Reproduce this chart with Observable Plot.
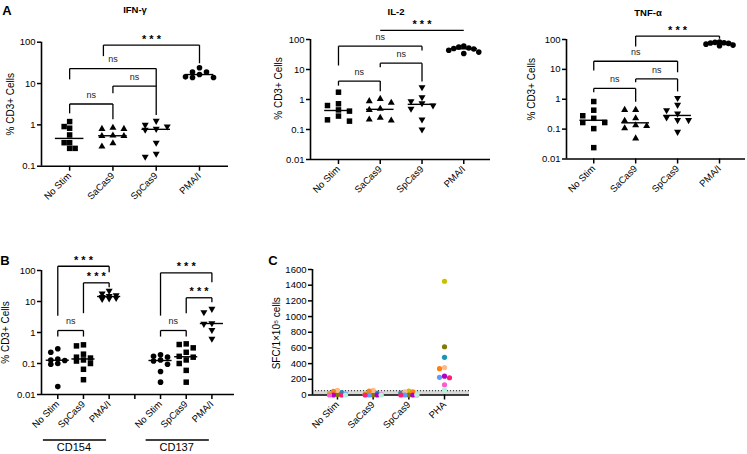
<!DOCTYPE html>
<html><head><meta charset="utf-8">
<script src="https://cdn.jsdelivr.net/npm/d3@7"></script>
<script src="https://cdn.jsdelivr.net/npm/@observablehq/plot@0.6"></script>
<style>
body{margin:0;background:#fff;font-family:"Liberation Sans",Arial,sans-serif;color:#000;}
#root{position:relative;width:747px;height:454px;overflow:hidden;background:#fff;}
.lbl{position:absolute;transform:translate(-50%,-50%);white-space:nowrap;line-height:1;}
</style></head><body><div id="root"></div>
<script>
// ---------------- DATA ----------------
const catsA = ["No Stim", "SaCas9", "SpCas9", "PMA/I"];
const catsB = ["No Stim", "SpCas9", "PMA/I", "", "No Stim", "SpCas9", "PMA/I"];
const groupsB = ["CD154", "CD137"];
const catsC = ["No Stim", "SaCas9", "SpCas9", "PHA"];

// IFN-γ (% CD3+ cells)
const ifnNoStim = [1.2, 0.91, 0.83, 0.57, 0.37, 0.37, 0.27, 0.27];
const ifnSaCas9 = [0.85, 0.8, 0.8, 0.55, 0.54, 0.54, 0.36, 0.30];
const ifnSpCas9 = [1.25, 1.0, 0.91, 0.8, 0.76, 0.37, 0.2, 0.17];
const ifnPMAI   = [24, 19, 19, 16.5, 14.5, 14, 14];
// IL-2
const il2NoStim = [1.75, 0.72, 0.63, 0.45, 0.41, 0.28, 0.21, 0.19];
const il2SaCas9 = [1.05, 0.88, 0.78, 0.49, 0.45, 0.245, 0.215, 0.2];
const il2SpCas9 = [2.57, 1.19, 0.88, 0.75, 0.63, 0.49, 0.215, 0.1];
const il2PMAI   = [60, 56, 52, 50, 48, 44, 38, 34];
// TNF-α
const tnfNoStim = [0.84, 0.43, 0.28, 0.23, 0.166, 0.166, 0.104, 0.024];
const tnfSaCas9 = [0.44, 0.44, 0.23, 0.19, 0.135, 0.128, 0.107, 0.049];
const tnfSpCas9 = [1.1, 0.65, 0.43, 0.33, 0.244, 0.2, 0.2, 0.081];
const tnfPMAI   = [82, 80, 78, 76, 74, 70, 65, 62];
// B: CD154 / CD137
const cd154NoStim = [0.30, 0.23, 0.14, 0.13, 0.125, 0.10, 0.095, 0.018];
const cd154SpCas9 = [0.40, 0.37, 0.20, 0.16, 0.15, 0.13, 0.12, 0.10, 0.065, 0.03];
const cd154PMAI   = [22, 18, 16, 15, 14, 13, 12.5, 12];
const cd137NoStim = [0.19, 0.17, 0.16, 0.13, 0.12, 0.095, 0.055, 0.025];
const cd137SpCas9 = [0.43, 0.41, 0.32, 0.23, 0.17, 0.16, 0.13, 0.10, 0.06, 0.025];
const cd137PMAI   = [5.8, 4.5, 2.0, 1.9, 1.2, 0.63];
// C: ELISpot SFC per 1e5 cells, one value per donor
const donors = ["D1","D2","D3","D4","D5","D6","D7","D8","D9","D10"];
const donorColors = ["#c8c000","#7f7c00","#1797b2","#ffb98a","#ff7f12","#5c9dff","#b300c8","#ff1f7a","#ff5ad2","#b5f0dc"];
const elsNoStim = [20, 5, 30, 60, 45, 10, 0, 0, 0, 0];
const elsSaCas9 = [10, 0, 20, 60, 50, 0, 0, 0, 5, 0];
const elsSpCas9 = [50, 0, 25, 40, 40, 0, 0, 0, 0, 5];
const elsPHA    = [1450, 615, 480, 350, 335, 225, 240, 220, 130, 65];
const elsCutoff = 55;

// significance brackets: x1/x2 = category index, top/yL/yR = data values
const ifnBrackets = [
  {x1: 0.78, x2: 3, top: 85, yL: 46, yR: 31, label: "***"},
  {x1: 0, x2: 2, top: 23, yL: 12.6, yR: 8.7, label: "ns"},
  {x1: 1, x2: 2, top: 8.7, yL: 5.8, yR: 1.74, label: "ns"},
  {x1: 0, x2: 1, top: 3.2, yL: 1.9, yR: 1.37, label: "ns"}
];
const il2Brackets = [
  {x1: 1, x2: 3, top: 200, yL: 200, yR: 200, label: "***"},
  {x1: 0, x2: 2, top: 60, yL: 13.6, yR: 43, label: "ns"},
  {x1: 1, x2: 2, top: 16.2, yL: 12, yR: 4, label: "ns"},
  {x1: 0, x2: 1, top: 4.1, yL: 2.9, yR: 1.9, label: "ns"}
];
const tnfBrackets = [
  {x1: 1, x2: 3, top: 130, yL: 58, yR: 106, label: "***"},
  {x1: 0, x2: 2, top: 18.7, yL: 9.1, yR: 8, label: "ns"},
  {x1: 1, x2: 2, top: 4.8, yL: 3.7, yR: 1.83, label: "ns"},
  {x1: 0, x2: 1, top: 2.3, yL: 1.7, yR: 0.82, label: "ns"}
];
const bBrackets = [
  {x1: 0, x2: 2, top: 137, yL: 3.5, yR: 88, label: "***"},
  {x1: 1, x2: 2, top: 40, yL: 4.2, yR: 29, label: "***"},
  {x1: 0, x2: 1, top: 1.16, yL: 0.74, yR: 0.74, label: "ns"},
  {x1: 4, x2: 6, top: 84, yL: 3.5, yR: 42, label: "***"},
  {x1: 5, x2: 6, top: 13.2, yL: 4.2, yR: 9.5, label: "***"},
  {x1: 4, x2: 5, top: 1.16, yL: 0.74, yR: 0.74, label: "ns"}
];

// ---------------- HELPERS ----------------
const FONT = "'Liberation Sans', Arial, Helvetica, sans-serif";
const root = document.getElementById("root");
function place(node, left, top) {
  node.style.position = "absolute";
  node.style.left = left + "px";
  node.style.top = top + "px";
  root.appendChild(node);
}
function htmlLabel(text, x, y, css) {
  const d = document.createElement("div");
  d.className = "lbl";
  d.textContent = text;
  d.style.left = x + "px";
  d.style.top = y + "px";
  Object.assign(d.style, css || {});
  root.appendChild(d);
}
// deterministic column packing (GraphPad-like scatter), limited to 2*maxK+1 columns
function swarm(values, yPx, step, minDy, maxK) {
  const pts = values.map((v, i) => ({v, i, py: yPx(v), off: 0}));
  const order = d3.sort(pts, p => p.py);
  const placed = [];
  const cands = [0];
  for (let j = 1; j <= maxK; j++) cands.push(-j * step, j * step);
  for (const p of order) {
    let best = null, bestGap = -1;
    for (const c of cands) {
      const same = placed.filter(q => Math.abs(q.off - c) < 0.01);
      const gap = same.length ? d3.min(same, q => Math.abs(q.py - p.py)) : Infinity;
      if (gap >= minDy) { best = c; bestGap = Infinity; break; }
      if (gap > bestGap) { bestGap = gap; best = c; }
    }
    p.off = best;
    placed.push(p);
  }
  return pts;
}
function bracketMarks(brackets) {
  const segs = [];
  for (const b of brackets) {
    segs.push({x1: b.x1, y1: b.top, x2: b.x2, y2: b.top});
    if (b.yL !== b.top) segs.push({x1: b.x1, y1: b.top, x2: b.x1, y2: b.yL});
    if (b.yR !== b.top) segs.push({x1: b.x2, y1: b.top, x2: b.x2, y2: b.yR});
  }
  const ns = brackets.filter(b => b.label === "ns");
  const st = brackets.filter(b => b.label !== "ns");
  return [
    Plot.link(segs, {x1: "x1", y1: "y1", x2: "x2", y2: "y2", stroke: "#000", strokeWidth: 1.3}),
    Plot.text(ns, {x: b => (b.x1 + b.x2) / 2, y: "top", text: "label", dy: -9, fontSize: 9, fill: "#222"}),
    Plot.text(st, {x: b => (b.x1 + b.x2) / 2, y: "top", text: b => b.label.split("").join(" "), dy: -6, fontSize: 11, fontWeight: "bold", fill: "#000"})
  ];
}

function scatterPanel(cfg) {
  const {width, height, ml, mt, mr, mb, xdomain, ydomain, ytype, yticks, ytickFormat,
         xticks, xlabels, groups, brackets, ylabel, ylabelDx, ylabelDy, step, minDy, maxK, medHalf,
         extraBack = [], extraFront = [], color} = cfg;
  const yPx = (ytype === "log" ? d3.scaleLog() : d3.scaleLinear()).domain(ydomain).range([height - mb, mt]);
  const pxPerX = (width - ml - mr) / (xdomain[1] - xdomain[0]);
  const dotMarks = [], meds = [];
  for (const g of groups) {
    const s = swarm(g.values, yPx, g.step || step, minDy, g.maxK ?? maxK);
    const data = s.map(p => ({x: g.x + p.off / pxPerX, y: p.v, donor: g.donors ? g.donors[p.i] : null}));
    dotMarks.push(Plot.dot(data, {x: "x", y: "y", symbol: g.symbol, rotate: g.rotate || 0, r: g.r,
      fill: g.donors ? "donor" : "#000", stroke: "none"}));
    if (medHalf) meds.push({x1: g.x - medHalf, x2: g.x + medHalf, y: d3.median(g.values)});
  }
  return Plot.plot({
    width, height, marginLeft: ml, marginTop: mt, marginRight: mr, marginBottom: mb,
    style: {fontFamily: FONT, fontSize: "9.5px", color: "#000", background: "transparent", overflow: "visible"},
    x: {domain: xdomain},
    y: {type: ytype, domain: ydomain},
    color: color || undefined,
    marks: [
      ...extraBack,
      Plot.ruleY([ydomain[0]], {stroke: "#000", strokeWidth: 1.6}),
      Plot.ruleX([xdomain[0]], {stroke: "#000", strokeWidth: 1.6}),
      Plot.axisY({ticks: yticks, tickFormat: ytickFormat, tickSize: 4, tickPadding: 2, strokeWidth: 1.5, label: null, fontSize: 9.5}),
      Plot.axisX({ticks: xticks, tickFormat: i => xlabels[i], tickRotate: -45, tickSize: 5, tickPadding: 3, strokeWidth: 1.5, label: null, fontSize: 9.5}),
      Plot.ruleY(meds, {x1: "x1", x2: "x2", y: "y", stroke: "#000", strokeWidth: 1.4}),
      ...dotMarks,
      ...(brackets ? bracketMarks(brackets) : []),
      Plot.text([ylabel], {frameAnchor: "left", text: d => d, rotate: -90, dx: ylabelDx, dy: ylabelDy || 0,
        fontSize: 10, textAnchor: "middle", lineAnchor: "middle", fill: "#000"}),
      ...extraFront
    ]
  });
}
const logFmt = d => String(d);
const sq = {symbol: "square", r: 3.1};
const tri = {symbol: "triangle", r: 2.6};
const itri = {symbol: "triangle", rotate: 180, r: 2.6};
const circ = {symbol: "circle", r: 2.8};

// ---------------- PANEL A ----------------
place(scatterPanel({
  width: 240, height: 230, ml: 41, mt: 41.7, mr: 12, mb: 64.3,
  xdomain: [-0.65, 3.67], ydomain: [0.1, 100], ytype: "log", yticks: [0.1, 1, 10, 100], ytickFormat: logFmt,
  xticks: [0, 1, 2, 3], xlabels: catsA, step: 11, minDy: 6, maxK: 1, medHalf: 0.33,
  groups: [
    {x: 0, values: ifnNoStim, ...sq, step: 5.5}, {x: 1, values: ifnSaCas9, ...tri},
    {x: 2, values: ifnSpCas9, ...itri}, {x: 3, values: ifnPMAI, ...circ, step: 7, maxK: 2}
  ],
  brackets: ifnBrackets, ylabel: "% CD3+ Cells", ylabelDx: -31, ylabelDy: 0
}), 0, 0);

place(scatterPanel({
  width: 247, height: 230, ml: 60, mt: 39, mr: 7, mb: 71,
  xdomain: [-0.67, 3.64], ydomain: [0.01, 100], ytype: "log", yticks: [0.01, 0.1, 1, 10, 100], ytickFormat: logFmt,
  xticks: [0, 1, 2, 3], xlabels: catsA, step: 11, minDy: 6, maxK: 1, medHalf: 0.33,
  groups: [
    {x: 0, values: il2NoStim, ...sq}, {x: 1, values: il2SaCas9, ...tri},
    {x: 2, values: il2SpCas9, ...itri}, {x: 3, values: il2PMAI, ...circ, step: 5, maxK: 3}
  ],
  brackets: il2Brackets, ylabel: "% CD3+ Cells", ylabelDx: -31.5, ylabelDy: -11
}), 250, 0);

place(scatterPanel({
  width: 247, height: 230, ml: 66, mt: 39, mr: 2, mb: 71.5,
  xdomain: [-0.65, 3.62], ydomain: [0.01, 100], ytype: "log", yticks: [0.01, 0.1, 1, 10, 100], ytickFormat: logFmt,
  xticks: [0, 1, 2, 3], xlabels: catsA, step: 11, minDy: 6, maxK: 1, medHalf: 0.33,
  groups: [
    {x: 0, values: tnfNoStim, ...sq}, {x: 1, values: tnfSaCas9, ...tri},
    {x: 2, values: tnfSpCas9, ...itri}, {x: 3, values: tnfPMAI, ...circ, step: 4.5, maxK: 3}
  ],
  brackets: tnfBrackets, ylabel: "% CD3+ Cells", ylabelDx: -34.5, ylabelDy: -10
}), 500, 0);

// ---------------- PANEL B ----------------
const bGroupSpans = [{name: groupsB[0], first: 0, last: 2}, {name: groupsB[1], first: 4, last: 6}];
function groupUnderlines(index, scales, values, dimensions) {
  const g = d3.create("svg:g");
  const xs = scales.x;
  for (const s of bGroupSpans) {
    const a = xs(s.first - 0.56), b = xs(s.last - 0.1);
    const y = dimensions.height - 14;
    g.append("line").attr("x1", a).attr("x2", b).attr("y1", y).attr("y2", y).attr("stroke", "#000").attr("stroke-width", 1.3);
    g.append("text").attr("x", xs((s.first + s.last) / 2 - 0.35)).attr("y", y + 11).attr("text-anchor", "middle")
      .attr("font-size", 11).attr("fill", "#000").text(s.name);
  }
  return g.node();
}
place(scatterPanel({
  width: 250, height: 224, ml: 41, mt: 40, mr: 16, mb: 60,
  xdomain: [-0.634, 6.88], ydomain: [0.01, 100], ytype: "log", yticks: [0.01, 0.1, 1, 10, 100], ytickFormat: logFmt,
  xticks: [0, 1, 2, 3, 4, 5, 6], xlabels: catsB, step: 7, minDy: 5.5, maxK: 1, medHalf: 0.45,
  groups: [
    {x: 0, values: cd154NoStim, ...circ}, {x: 1, values: cd154SpCas9, ...sq}, {x: 2, values: cd154PMAI, ...itri},
    {x: 4, values: cd137NoStim, ...circ}, {x: 5, values: cd137SpCas9, ...sq}, {x: 6, values: cd137PMAI, ...itri, step: 8}
  ],
  brackets: bBrackets, ylabel: "% CD3+ Cells", ylabelDx: -36, ylabelDy: 0,
  extraFront: [groupUnderlines]
}), 0, 230);

// ---------------- PANEL C ----------------
place(scatterPanel({
  width: 220, height: 224, ml: 50, mt: 39, mr: 13, mb: 59.5,
  xdomain: [-0.70, 3.70], ydomain: [0, 1600], ytype: "linear", yticks: d3.range(0, 1601, 200), ytickFormat: d3.format("d"),
  xticks: [0, 1, 2, 3], xlabels: catsC, step: 4, minDy: 4.5, maxK: 2, medHalf: 0,
  color: {domain: donors, range: donorColors},
  groups: [
    {x: 0, values: elsNoStim, donors, symbol: "circle", r: 2.6},
    {x: 1, values: elsSaCas9, donors, symbol: "circle", r: 2.6},
    {x: 2, values: elsSpCas9, donors, symbol: "circle", r: 2.6},
    {x: 3, values: elsPHA, donors, symbol: "circle", r: 2.6, step: 5}
  ],
  extraBack: [
    Plot.rect([elsCutoff], {y1: () => 0, y2: d => d, fill: "#d9d9d9"}),
    Plot.ruleY([elsCutoff], {stroke: "#444", strokeWidth: 1.2, strokeDasharray: "1,2"})
  ],
  ylabel: "SFC/1×10⁵ cells", ylabelDx: -36, ylabelDy: 1
}), 262, 230);

// ---------------- TITLES & PANEL LETTERS ----------------
htmlLabel("A", 7, 10, {fontWeight: "bold", fontSize: "13px"});
htmlLabel("B", 5, 260, {fontWeight: "bold", fontSize: "13px"});
htmlLabel("C", 273, 260, {fontWeight: "bold", fontSize: "13px"});
htmlLabel("IFN-γ", 135, 10, {fontWeight: "bold", fontSize: "9.5px"});
htmlLabel("IL-2", 396, 12, {fontWeight: "bold", fontSize: "9.5px"});
htmlLabel("TNF-α", 648, 13, {fontWeight: "bold", fontSize: "9.5px"});
</script></body></html>
